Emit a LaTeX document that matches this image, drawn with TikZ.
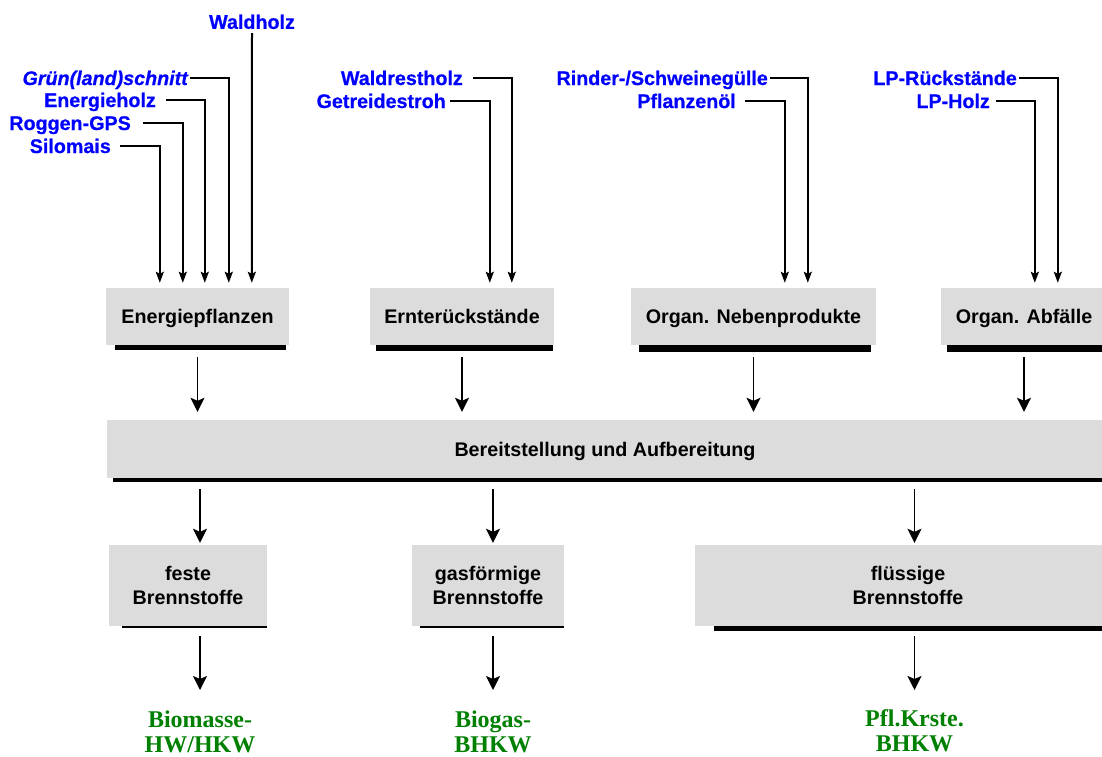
\documentclass[tikz,border=0pt]{standalone}
\usepackage{fontspec}
\setmainfont{Liberation Sans}
\newfontfamily\greenfont{Liberation Serif}
\newfontfamily\bluefont[FakeBold=0.6]{Liberation Sans Bold}
\usetikzlibrary{arrows.meta}
\definecolor{boxgray}{RGB}{220,220,220}
\definecolor{labblue}{RGB}{0,0,255}
\definecolor{outgreen}{RGB}{0,128,0}
\begin{document}
\begin{tikzpicture}[x=1pt,y=-1pt,
  box/.style={fill=boxgray, inner sep=0pt, font=\fontsize{19.7}{24}\selectfont\bfseries, align=center},
  onebox/.style={box, text height=14pt, text depth=0pt, minimum height=57pt},
  lab/.style={inner sep=0pt, text=labblue, font=\bluefont\fontsize{19.7}{24}\selectfont, text height=14pt, text depth=0pt, anchor=east},
  inarrow/.style={line width=2pt, -{Stealth[length=11pt,width=8pt,inset=2pt]}, shorten >=5pt},
  bigarrow/.style={line width=1.9pt, -{Stealth[length=14pt,width=14pt,inset=3pt]}},
  outlab/.style={inner sep=0pt, text=outgreen, font=\greenfont\bfseries\fontsize{24}{25}\selectfont, align=center, anchor=north}
]
\useasboundingbox (0,0) rectangle (1102,756);

% boxes
\node[onebox, minimum width=183pt] (ep) at (197.5,316.5) {Energiepflanzen};
\node[onebox, minimum width=184pt] (er) at (462,316.5) {Ernterückstände};
\node[onebox, minimum width=245pt] (nb) at (753.5,316.5) {Organ. Nebenprodukte};
\node[onebox, minimum width=166pt] (ab) at (1024,316.5) {Organ. Abfälle};
\node[onebox, minimum width=996pt, minimum height=58pt] (bt) at (605,449) {Bereitstellung und Aufbereitung};
\node[box, minimum width=158pt, minimum height=81pt] (fe) at (188,585.5) {feste\\Brennstoffe};
\node[box, minimum width=152pt, minimum height=81pt] (ga) at (488,585.5) {gasförmige\\Brennstoffe};
\node[box, minimum width=426pt, minimum height=81pt] (fl) at (908,585.5) {flüssige\\Brennstoffe};

% bars under boxes
\fill ([xshift=9pt]ep.south west) rectangle ([xshift=-3pt,yshift=-5pt]ep.south east);
\fill ([xshift=6pt]er.south west) rectangle ([xshift=-1pt,yshift=-6pt]er.south east);
\fill ([xshift=8pt]nb.south west) rectangle ([xshift=-5pt,yshift=-7pt]nb.south east);
\fill ([xshift=6pt]ab.south west) rectangle ([xshift=5pt,yshift=-7pt]ab.south east);
\fill ([xshift=6pt]bt.south west) rectangle ([xshift=5pt,yshift=-4pt]bt.south east);
\fill ([xshift=13pt]fe.south west) rectangle ([yshift=-1.3pt]fe.south east);
\fill ([xshift=8pt]ga.south west) rectangle ([yshift=-1.3pt]ga.south east);
\fill ([xshift=19pt]fl.south west) rectangle ([yshift=-5pt]fl.south east);

% input labels
\node[lab, anchor=south] (wh) at (252,29) {Waldholz};
\node[lab] (gr) at (188,78) {\itshape Grün(land)schnitt};
\node[lab] (eh) at (156,100) {Energieholz};
\node[lab] (rg) at (131,123) {Roggen-GPS};
\node[lab] (sm) at (111,146) {Silomais};
\node[lab] (wr) at (463,78) {Waldrestholz};
\node[lab] (gs) at (446,101) {Getreidestroh};
\node[lab] (rs) at (768,78) {Rinder-/Schweinegülle};
\node[lab] (po) at (736,101) {Pflanzenöl};
\node[lab] (lr) at (1017,78) {LP-Rückstände};
\node[lab] (lh) at (990,101) {LP-Holz};

% input connectors
\draw[inarrow] ([yshift=-4pt]wh.south) -- ([xshift=146pt]ep.north west);
\draw[inarrow] ([xshift=2pt]gr.east) -| ([xshift=123pt]ep.north west);
\draw[inarrow] ([xshift=10pt]eh.east) -| ([xshift=99pt]ep.north west);
\draw[inarrow] ([xshift=12pt]rg.east) -| ([xshift=77pt]ep.north west);
\draw[inarrow] ([xshift=9pt]sm.east) -| ([xshift=54pt]ep.north west);
\draw[inarrow] ([xshift=10pt]wr.east) -| ([xshift=142pt]er.north west);
\draw[inarrow] ([xshift=4pt]gs.east) -| ([xshift=120pt]er.north west);
\draw[inarrow] ([xshift=2pt]rs.east) -| ([xshift=177pt]nb.north west);
\draw[inarrow] ([xshift=9pt]po.east) -| ([xshift=154pt]nb.north west);
\draw[inarrow] ([xshift=2pt]lr.east) -| ([xshift=117pt]ab.north west);
\draw[inarrow] ([xshift=6pt]lh.east) -| ([xshift=94pt]ab.north west);

% output labels
\node[outlab] (g1) at (200,711) {Biomasse-\\HW/HKW};
\node[outlab] (g2) at (493,711) {Biogas-\\BHKW};
\node[outlab] (g3) at (914.5,709) {Pfl.Krste.\\BHKW};

% main arrows
\foreach \b in {ep,er,nb,ab}
  \draw[bigarrow, shorten <=12pt, shorten >=8pt] (\b.south) -- (\b.south |- bt.north);
\draw[bigarrow, shorten <=11pt, shorten >=2pt] (bt.south -| g1.north) -- (fe.north -| g1.north);
\draw[bigarrow, shorten <=11pt, shorten >=2pt] (bt.south -| g2.north) -- (ga.north -| g2.north);
\draw[bigarrow, shorten <=11pt, shorten >=2pt] (bt.south -| g3.north) -- (fl.north -| g3.north);
\draw[bigarrow, shorten <=10pt, shorten >=21pt] (fe.south -| g1.north) -- (g1.north);
\draw[bigarrow, shorten <=10pt, shorten >=21pt] (ga.south -| g2.north) -- (g2.north);
\draw[bigarrow, shorten <=10pt, shorten >=19pt] (fl.south -| g3.north) -- (g3.north);
\end{tikzpicture}
\end{document}
